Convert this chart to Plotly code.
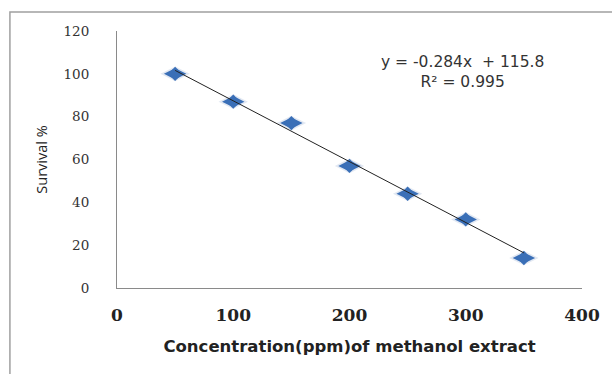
import plotly.graph_objects as go

concentration = [50, 100, 150, 200, 250, 300, 350]
survival = [100, 87, 77, 57, 44, 32, 14]
slope = -0.284
intercept = 115.8
r_squared = 0.995
x_ticks = [0, 100, 200, 300, 400]
y_ticks = [0, 20, 40, 60, 80, 100, 120]

trend_x = [concentration[0], concentration[-1]]
trend_y = [slope * v + intercept for v in trend_x]

L, R, T, B = 117, 26, 31, 86
PW, PH = 612 - L - R, 374 - T - B

fig = go.Figure()
# soft shadow under markers
fig.add_trace(go.Scatter(
    x=concentration, y=survival, mode="markers",
    marker=dict(symbol="diamond-wide", size=21, color="rgba(60,100,170,0.15)", line=dict(width=0)),
    hoverinfo="skip", showlegend=False))
fig.add_trace(go.Scatter(
    x=concentration, y=survival, mode="markers",
    marker=dict(symbol="diamond-wide", size=16, color="#3a6fb7", line=dict(width=0)),
    hoverinfo="skip", showlegend=False))
fig.add_trace(go.Scatter(
    x=concentration, y=survival, mode="markers",
    marker=dict(symbol="diamond", size=11, color="#3a6fb7", line=dict(width=0)),
    showlegend=False))
fig.add_trace(go.Scatter(
    x=trend_x, y=trend_y, mode="lines",
    line=dict(color="#222222", width=1), showlegend=False))

fig.update_layout(
    width=612, height=374,
    margin=dict(l=L, r=R, t=T, b=B),
    paper_bgcolor="white", plot_bgcolor="white",
    xaxis=dict(range=[0, 400], tickvals=x_ticks, showgrid=False, zeroline=False,
               showline=True, linecolor="#8a8a8a", linewidth=1, ticks="",
               tickfont=dict(family="DejaVu Serif", size=17, color="#222", weight="bold"),
               ticklabelstandoff=12,
               title=dict(text="Concentration(ppm)of methanol extract",
                          font=dict(family="DejaVu Sans", size=16.5, color="#222", weight="bold"),
                          standoff=16)),
    yaxis=dict(range=[0, 120], tickvals=y_ticks, showgrid=False, zeroline=False,
               showline=True, linecolor="#8a8a8a", linewidth=1, ticks="",
               tickfont=dict(family="DejaVu Serif", size=13.5, color="#333"),
               ticklabelstandoff=24,
               title=dict(text="Survival %", font=dict(family="Open Sans", size=14.5, color="#222"),
                          standoff=12)),
    annotations=[
        dict(x=(465 - L) / PW, y=1 - (72 - T) / PH, xref="paper", yref="paper", showarrow=False,
             xanchor="center", yanchor="middle",
             text=f"y = {slope}x  + {intercept}<br>R² = {r_squared}",
             font=dict(family="DejaVu Sans", size=15.5, color="#333"), align="center"),
    ],
    shapes=[dict(type="rect", xref="paper", yref="paper",
                 x0=(9 - L) / PW, x1=(640 - L) / PW,
                 y0=(T + PH - 400) / PH, y1=1 + (T - 12) / PH,
                 line=dict(color="#a0a0a0", width=1.5), layer="above")],
)

fig.write_html("out.html", config={"displayModeBar": False},
               post_script="document.body.style.margin='0';document.body.style.overflow='hidden';")
